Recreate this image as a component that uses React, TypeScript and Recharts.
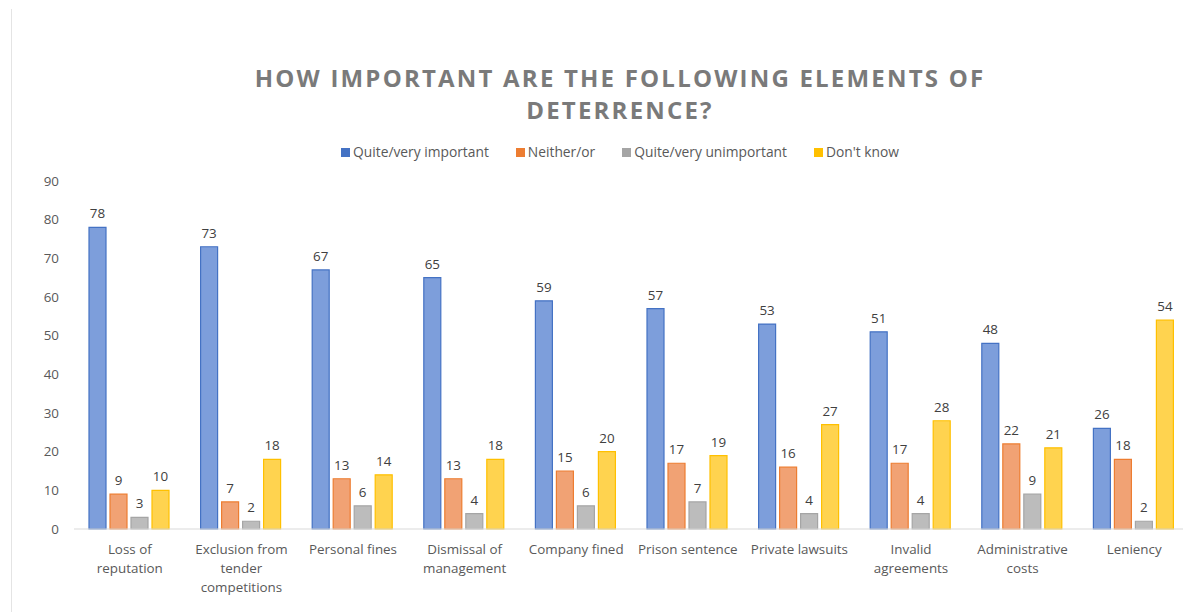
import React from 'react';
import { BarChart, Bar, XAxis, YAxis, LabelList, Legend } from 'recharts';

const categories: string[] = [
  'Loss of\nreputation',
  'Exclusion from\ntender\ncompetitions',
  'Personal fines',
  'Dismissal of\nmanagement',
  'Company fined',
  'Prison sentence',
  'Private lawsuits',
  'Invalid\nagreements',
  'Administrative\ncosts',
  'Leniency',
];
const important: number[] = [78, 73, 67, 65, 59, 57, 53, 51, 48, 26];
const neither: number[] = [9, 7, 13, 13, 15, 17, 16, 17, 22, 18];
const unimportant: number[] = [3, 2, 6, 4, 6, 7, 4, 4, 9, 2];
const dontKnow: number[] = [10, 18, 14, 18, 20, 19, 27, 28, 21, 54];
const yTicks: number[] = [0, 10, 20, 30, 40, 50, 60, 70, 80, 90];
const seriesNames: string[] = ['Quite/very important', 'Neither/or', 'Quite/very unimportant', "Don't know"];
const titleLines: string[] = ['HOW IMPORTANT ARE THE FOLLOWING ELEMENTS OF', 'DETERRENCE?'];

const FONT = '"Open Sans", sans-serif';
const seriesStyle = [
  { key: 'important', fill: '#7d9edb', stroke: '#4472c4' },
  { key: 'neither', fill: '#f1a274', stroke: '#ed7d31' },
  { key: 'unimportant', fill: '#bcbcbc', stroke: '#a5a5a5' },
  { key: 'dontKnow', fill: '#ffd34f', stroke: '#ffc000' },
];

const data = categories.map((c, i) => ({
  name: c,
  important: important[i],
  neither: neither[i],
  unimportant: unimportant[i],
  dontKnow: dontKnow[i],
}));

const CategoryTick = (props: any) => {
  const { x, y, payload } = props;
  const lines = String(payload.value).split('\n');
  return (
    <g transform={`translate(${x},${y})`}>
      <text textAnchor="middle" fill="#595959" fontSize={13.4} fontFamily={FONT}>
        {lines.map((l, i) => (
          <tspan key={i} x={0} dy={i === 0 ? 25 : 19}>
            {l}
          </tspan>
        ))}
      </text>
    </g>
  );
};

const LegendContent = () => (
  <div style={{ textAlign: 'center', fontFamily: FONT, fontSize: 13.8, color: '#595959', lineHeight: '18px', whiteSpace: 'nowrap' }}>
    {seriesNames.map((n, i) => (
      <span key={n} style={{ display: 'inline-block', marginRight: i < seriesNames.length - 1 ? 27 : 0 }}>
        <span style={{ display: 'inline-block', width: 9, height: 9, background: seriesStyle[i].stroke, marginRight: 3, verticalAlign: 'middle', position: 'relative', top: -1 }} />
        {n}
      </span>
    ))}
  </div>
);

export default function App() {
  return (
    <div style={{ position: 'absolute', left: 0, top: 0, width: 1183, height: 612, overflow: 'hidden', background: '#ffffff', fontFamily: FONT }}>
      <div style={{ position: 'absolute', left: 11, top: 9, width: 1, height: 603, background: '#e4e4e4' }} />
      <div style={{ position: 'absolute', left: 0, top: 62, width: 1240, textAlign: 'center', fontFamily: FONT, fontWeight: 700, fontSize: 24, letterSpacing: 2.2, color: '#7a7a7a', lineHeight: '32px' }}>
        {titleLines.map((t) => (
          <div key={t}>{t}</div>
        ))}
      </div>
      <BarChart
        width={1195}
        height={612}
        data={data}
        margin={{ top: 181, right: 5, bottom: 0, left: 0 }}
        barCategoryGap={15}
        barGap={4}
      >
        <XAxis
          dataKey="name"
          height={83}
          interval={0}
          tickLine={false}
          tickSize={0}
          tickMargin={0}
          axisLine={{ stroke: '#d9d9d9', strokeWidth: 1 }}
          tick={<CategoryTick />}
        />
        <YAxis
          width={74}
          domain={[0, 90]}
          ticks={yTicks}
          interval={0}
          axisLine={false}
          tickLine={false}
          tickSize={0}
          tickMargin={15}
          tick={{ fill: '#595959', fontSize: 13.4, fontFamily: FONT }}
        />
        <Legend
          verticalAlign="middle"
          align="center"
          layout="horizontal"
          content={<LegendContent />}
          wrapperStyle={{ top: 143, left: 0, width: 1240 }}
        />
        {seriesStyle.map((s, i) => (
          <Bar
            key={s.key}
            dataKey={s.key}
            name={seriesNames[i]}
            fill={s.fill}
            stroke={s.stroke}
            strokeWidth={1.2}
            isAnimationActive={false}
          >
            <LabelList dataKey={s.key} position="top" offset={9} fill="#404040" fontSize={13.4} fontFamily={FONT} />
          </Bar>
        ))}
      </BarChart>
    </div>
  );
}
